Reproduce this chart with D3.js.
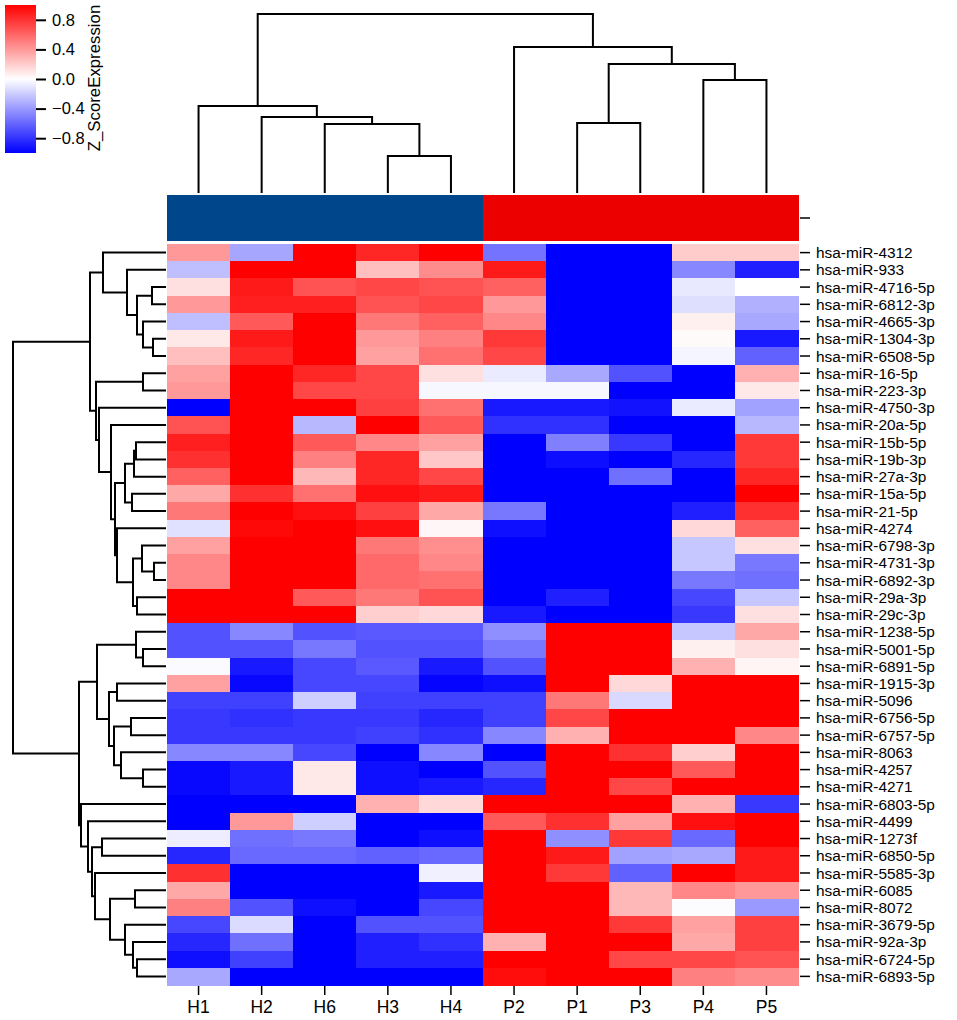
<!DOCTYPE html>
<html>
<head>
<meta charset="utf-8">
<script src="https://cdn.jsdelivr.net/npm/d3@7"></script>
<style>
  body { margin: 0; background: #fff; }
  text { font-family: "Liberation Sans", Arial, sans-serif; fill: #000; }
</style>
</head>
<body>
<svg id="chart" width="957" height="1020"></svg>
<script>
// samples in display order + their group
const samples = ["H1", "H2", "H6", "H3", "H4", "P2", "P1", "P3", "P4", "P5"]
const groups = ["H", "H", "H", "H", "H", "P", "P", "P", "P", "P"]

const mirnas = [
  "hsa-miR-4312", "hsa-miR-933", "hsa-miR-4716-5p", "hsa-miR-6812-3p", "hsa-miR-4665-3p",
  "hsa-miR-1304-3p", "hsa-miR-6508-5p", "hsa-miR-16-5p", "hsa-miR-223-3p", "hsa-miR-4750-3p",
  "hsa-miR-20a-5p", "hsa-miR-15b-5p", "hsa-miR-19b-3p", "hsa-miR-27a-3p", "hsa-miR-15a-5p",
  "hsa-miR-21-5p", "hsa-miR-4274", "hsa-miR-6798-3p", "hsa-miR-4731-3p", "hsa-miR-6892-3p",
  "hsa-miR-29a-3p", "hsa-miR-29c-3p", "hsa-miR-1238-5p", "hsa-miR-5001-5p", "hsa-miR-6891-5p",
  "hsa-miR-1915-3p", "hsa-miR-5096", "hsa-miR-6756-5p", "hsa-miR-6757-5p", "hsa-miR-8063",
  "hsa-miR-4257", "hsa-miR-4271", "hsa-miR-6803-5p", "hsa-miR-4499", "hsa-miR-1273f",
  "hsa-miR-6850-5p", "hsa-miR-5585-3p", "hsa-miR-6085", "hsa-miR-8072", "hsa-miR-3679-5p",
  "hsa-miR-92a-3p", "hsa-miR-6724-5p", "hsa-miR-6893-5p"
]

// z-scores, one row per miRNA, columns in samples order
const zscores = [
  [0.4, -0.35, 1, 0.85, 1, -0.55, -1, -1, 0.2, 0.2],
  [-0.25, 1, 1, 0.25, 0.45, 0.9, -1, -1, -0.47, -0.88],
  [0.12, 0.9, 0.68, 0.72, 0.68, 0.62, -1, -1, -0.09, 0],
  [0.4, 0.88, 0.88, 0.68, 0.72, 0.4, -1, -1, -0.13, -0.31],
  [-0.25, 0.65, 1, 0.53, 0.62, 0.47, -1, -1, 0.06, -0.34],
  [0.09, 0.9, 1, 0.4, 0.5, 0.78, -1, -1, 0.02, -0.9],
  [0.25, 0.85, 1, 0.37, 0.56, 0.72, -1, -1, -0.04, -0.62],
  [0.37, 1, 0.85, 0.72, 0.12, -0.08, -0.34, -0.68, -1, 0.31],
  [0.4, 1, 0.72, 0.72, -0.03, -0.03, -0.03, -1, -1, 0.09],
  [-1, 1, 1, 0.75, 0.56, -0.9, -0.9, -0.93, -0.08, -0.37],
  [0.68, 1, -0.28, 1, 0.65, -0.81, -0.81, -1, -1, -0.28],
  [0.88, 1, 0.65, 0.47, 0.37, -1, -0.5, -0.78, -1, 0.78],
  [0.81, 1, 0.5, 0.85, 0.22, -1, -0.95, -1, -0.85, 0.78],
  [0.62, 1, 0.28, 0.85, 0.72, -1, -1, -0.56, -1, 0.85],
  [0.34, 0.81, 0.56, 0.94, 0.9, -1, -1, -1, -1, 1],
  [0.53, 1, 0.94, 0.75, 0.34, -0.53, -1, -1, -0.88, 0.81],
  [-0.12, 0.97, 1, 0.94, 0.03, -0.94, -1, -1, 0.15, 0.62],
  [0.37, 1, 1, 0.53, 0.44, -1, -1, -1, -0.22, 0.12],
  [0.47, 1, 1, 0.59, 0.47, -1, -1, -1, -0.22, -0.53],
  [0.47, 1, 1, 0.59, 0.56, -1, -1, -1, -0.53, -0.56],
  [1, 1, 0.65, 0.53, 0.68, -1, -0.88, -1, -0.72, -0.22],
  [1, 1, 1, 0.19, 0.15, -0.9, -1, -1, -0.78, 0.12],
  [-0.68, -0.47, -0.68, -0.65, -0.65, -0.44, 1, 1, -0.22, 0.34],
  [-0.68, -0.68, -0.53, -0.68, -0.68, -0.53, 1, 1, 0.06, 0.12],
  [-0.02, -0.9, -0.72, -0.65, -0.9, -0.68, 1, 1, 0.31, 0.04],
  [0.37, -0.97, -0.72, -0.72, -0.98, -0.94, 1, 0.15, 1, 1],
  [-0.75, -0.75, -0.19, -0.75, -0.75, -0.75, 0.53, -0.15, 1, 1],
  [-0.78, -0.81, -0.78, -0.78, -0.85, -0.75, 0.72, 1, 1, 1],
  [-0.78, -0.78, -0.78, -0.75, -0.81, -0.47, 0.31, 1, 1, 0.47],
  [-0.47, -0.47, -0.72, -1, -0.47, -1, 1, 0.81, 0.19, 1],
  [-0.97, -0.9, 0.09, -0.94, -1, -0.68, 1, 1, 0.65, 1],
  [-0.97, -0.9, 0.09, -0.94, -0.9, -0.85, 1, 0.72, 1, 1],
  [-1, -1, -1, 0.31, 0.15, 1, 1, 1, 0.31, -0.78],
  [-1, 0.4, -0.19, -1, -1, 0.65, 0.81, 0.37, 0.94, 1],
  [-0.07, -0.56, -0.53, -1, -0.94, 1, -0.44, 0.78, -0.59, 1],
  [-0.85, -0.59, -0.59, -0.62, -0.59, 1, 0.9, -0.37, -0.34, 0.9],
  [0.81, -1, -1, -1, -0.06, 1, 0.78, -0.62, 1, 0.9],
  [0.34, -1, -1, -1, -0.9, 1, 1, 0.28, 0.47, 0.4],
  [0.5, -0.68, -0.94, -1, -0.72, 1, 1, 0.28, -0.01, -0.4],
  [-0.72, -0.14, -1, -0.68, -0.68, 1, 1, 0.78, 0.37, 0.75],
  [-0.85, -0.56, -1, -0.88, -0.81, 0.31, 1, 1, 0.34, 0.75],
  [-0.94, -0.75, -1, -0.88, -0.88, 1, 1, 0.72, 0.72, 0.68],
  [-0.34, -1, -1, -1, -1, 0.95, 1, 1, 0.5, 0.45]
]

// hclust style merges: negative = leaf (1-based), positive = earlier merge step
const colMerge = [[-4, -5], [-7, -8], [-3, 1], [-9, -10], [-2, 3], [2, 4], [-1, 5], [-6, 6], [7, 8]]
const colHeight = [37, 70, 69, 113, 76, 129, 87, 146, 179]

const rowMerge = [
  [-19, -20], [-6, -7], [-3, -4], [-5, 2], [-8, -9], [-18, 1], [3, 4], [-21, -22],
  [-12, -13], [9, -14], [6, 8], [-15, -16], [-2, 7], [10, 12], [-17, 11], [14, 15],
  [-11, 16], [-1, 13], [-10, 17], [5, 19], [18, 20],
  [-24, -25], [-23, 22], [-31, -32], [-30, 24], [-28, -29], [26, 25], [-26, -27], [28, 27],
  [23, 29], [-42, -43], [-41, 31], [-40, 32], [-38, -39], [34, 33], [-37, 35], [-35, -36],
  [37, 36], [-34, 38], [-33, 39], [30, 40], [21, 41]
]
const rowHeight = [
  12, 13, 14, 23, 23, 24, 29, 29,
  30, 32, 33, 34, 39, 41, 49, 51,
  55, 63, 67, 70, 76,
  23, 30, 23, 45, 35, 52, 49, 57,
  69, 29, 33, 41, 31, 56, 71, 64,
  74, 78, 85, 87, 153
]

const legendTicks = [0.8, 0.4, 0, -0.4, -0.8]
const groupColors = { H: "#00468B", P: "#ED0000" }

const svg = d3.select("#chart")

const x = d3.scaleBand().domain(samples).range([167, 798])
const y = d3.scaleBand().domain(mirnas).range([244, 985])
const color = d3.scaleLinear().domain([-1, 0, 1]).range(["#0000ff", "#ffffff", "#ff0000"]).clamp(true)

// heatmap cells
let cells = []
zscores.forEach((row, i) => {
  row.forEach((v, j) => cells.push({ r: mirnas[i], c: samples[j], v: v }))
})
svg.append("g")
  .attr("shape-rendering", "crispEdges")
  .selectAll("rect")
  .data(cells)
  .join("rect")
  .attr("x", d => x(d.c))
  .attr("y", d => y(d.r))
  .attr("width", x.bandwidth() + 0.5)
  .attr("height", y.bandwidth() + 0.5)
  .attr("fill", d => color(d.v))

// annotation bar
svg.append("g")
  .attr("shape-rendering", "crispEdges")
  .selectAll("rect")
  .data(samples)
  .join("rect")
  .attr("x", d => x(d))
  .attr("y", 195)
  .attr("width", x.bandwidth() + 0.5)
  .attr("height", 46)
  .attr("fill", (d, i) => groupColors[groups[i]])

svg.append("line")
  .attr("x1", 800).attr("x2", 810).attr("y1", 218).attr("y2", 218)
  .style("stroke", "black").style("stroke-width", 1.5)

// row labels
const rowAxis = svg.append("g")
rowAxis.selectAll("line")
  .data(mirnas)
  .join("line")
  .attr("x1", 800).attr("x2", 810)
  .attr("y1", d => y(d) + y.bandwidth() / 2)
  .attr("y2", d => y(d) + y.bandwidth() / 2)
  .style("stroke", "black").style("stroke-width", 1.5)
rowAxis.selectAll("text")
  .data(mirnas)
  .join("text")
  .attr("x", 816)
  .attr("y", d => y(d) + y.bandwidth() / 2)
  .attr("dy", "0.36em")
  .style("font-size", "15.4px")
  .text(d => d)

// column labels
const colAxis = svg.append("g")
colAxis.selectAll("line")
  .data(samples)
  .join("line")
  .attr("x1", d => x(d) + x.bandwidth() / 2)
  .attr("x2", d => x(d) + x.bandwidth() / 2)
  .attr("y1", 986).attr("y2", 995)
  .style("stroke", "black").style("stroke-width", 1.5)
colAxis.selectAll("text")
  .data(samples)
  .join("text")
  .attr("x", d => x(d) + x.bandwidth() / 2)
  .attr("y", 1013)
  .attr("text-anchor", "middle")
  .style("font-size", "17.5px")
  .text(d => d)

// dendrograms
function buildTree(merge, heights, leafPos) {
  let nodes = []
  let get = id => id < 0 ? { p: leafPos(-id - 1), h: 0 } : nodes[id - 1]
  let links = []
  merge.forEach((m, k) => {
    let a = get(m[0])
    let b = get(m[1])
    let n = { p: (a.p + b.p) / 2, h: heights[k] }
    nodes.push(n)
    links.push({ a: a, b: b, n: n })
  })
  return links
}

const rowTree = buildTree(rowMerge, rowHeight, i => y(mirnas[i]) + y.bandwidth() / 2)
const hx = d3.scaleLinear().domain([0, d3.max(rowHeight)]).range([166, 13])
svg.append("g")
  .selectAll("path")
  .data(rowTree)
  .join("path")
  .attr("d", d => `M${hx(d.a.h)},${d.a.p}H${hx(d.n.h)}V${d.b.p}H${hx(d.b.h)}`)
  .style("fill", "none")
  .style("stroke", "black")
  .style("stroke-width", 2)

const colTree = buildTree(colMerge, colHeight, i => x(samples[i]) + x.bandwidth() / 2)
const vy = d3.scaleLinear().domain([0, d3.max(colHeight)]).range([193, 14])
svg.append("g")
  .selectAll("path")
  .data(colTree)
  .join("path")
  .attr("d", d => `M${d.a.p},${vy(d.a.h)}V${vy(d.n.h)}H${d.b.p}V${vy(d.b.h)}`)
  .style("fill", "none")
  .style("stroke", "black")
  .style("stroke-width", 2)

// legend
const ly = d3.scaleLinear().domain([-1, 1]).range([153, 5])
const grad = svg.append("defs").append("linearGradient")
  .attr("id", "zgrad")
  .attr("x1", 0).attr("x2", 0).attr("y1", 1).attr("y2", 0)
d3.range(-1, 1.01, 0.1).forEach(v => {
  grad.append("stop")
    .attr("offset", (v + 1) / 2)
    .attr("stop-color", color(v))
})
svg.append("rect")
  .attr("x", 5).attr("y", 5)
  .attr("width", 31).attr("height", 148)
  .attr("fill", "url(#zgrad)")

const legendAxis = svg.append("g")
  .attr("transform", "translate(36,0)")
  .call(d3.axisRight(ly).tickValues(legendTicks).tickSize(10).tickFormat(d3.format(".1f")))
legendAxis.select(".domain").remove()
legendAxis.selectAll("line").style("stroke-width", 2)
legendAxis.selectAll("text")
  .attr("x", 16)
  .style("font-size", "16.5px")
  .style("font-family", "'Liberation Sans', Arial, sans-serif")

svg.append("text")
  .attr("transform", "translate(100,78) rotate(-90)")
  .attr("text-anchor", "middle")
  .style("font-size", "16.8px")
  .text("Z_ScoreExpression")
</script>
</body>
</html>
